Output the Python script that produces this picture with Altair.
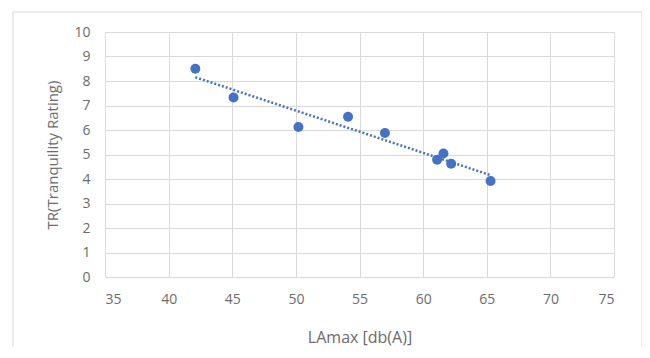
import altair as alt
import pandas as pd

lamax = [42.1, 45.1, 50.2, 54.1, 57.0, 61.1, 61.6, 62.2, 65.3]
tr = [8.50, 7.33, 6.12, 6.54, 5.88, 4.79, 5.04, 4.62, 3.92]

df = pd.DataFrame({"LAmax": lamax, "TR": tr})

FONT = "Open Sans"
GRAY = "#6b6b6b"

xscale = alt.Scale(domain=[35, 75], nice=False, zero=False)
yscale = alt.Scale(domain=[0, 10], nice=False)

xaxis = alt.Axis(title="LAmax [db(A)]", values=list(range(35, 80, 5)),
                 grid=True, gridColor="#d9d9d9", domain=False, ticks=False,
                 labelPadding=15, titlePadding=23, labelOverlap=False,
                 titleFontWeight="normal", titleFontSize=16)
yaxis = alt.Axis(title="TR(Tranquility Rating)", values=list(range(0, 11)),
                 grid=True, gridColor="#d9d9d9", domain=False, ticks=False,
                 labelPadding=15, titlePadding=13, labelOverlap=False,
                 titleFontWeight="normal")

base = alt.Chart(df)

frame = alt.Chart(pd.DataFrame({"a": [0]})).mark_rect(
    fill=None, stroke="#d9d9d9", strokeWidth=1, clip=False
).encode(
    x=alt.value(-92), x2=alt.value(537), y=alt.value(-20), y2=alt.value(345)
)

points = base.mark_circle(size=100, color="#4472C4", opacity=1).encode(
    x=alt.X("LAmax:Q", scale=xscale, axis=xaxis),
    y=alt.Y("TR:Q", scale=yscale, axis=yaxis),
)

trend = base.transform_regression("LAmax", "TR", method="linear").mark_line(
    color="#4472C4", strokeWidth=2.5, strokeDash=[2, 2]
).encode(x=alt.X("LAmax:Q", scale=xscale, axis=xaxis),
         y=alt.Y("TR:Q", scale=yscale, axis=yaxis))

chart = alt.layer(points, trend, frame).properties(
    width=509, height=245,
    background="white",
    autosize=alt.AutoSizeParams(type="none"),
    padding={"left": 97, "top": 24, "right": 28, "bottom": 70},
).configure_view(stroke="#d9d9d9").configure_axis(
    labelFont=FONT, titleFont=FONT, labelColor=GRAY, titleColor=GRAY,
    labelFontSize=14, titleFontSize=15, titleFontWeight="normal",
)

chart.save("out.html", embed_options={"renderer": "svg", "actions": False})
